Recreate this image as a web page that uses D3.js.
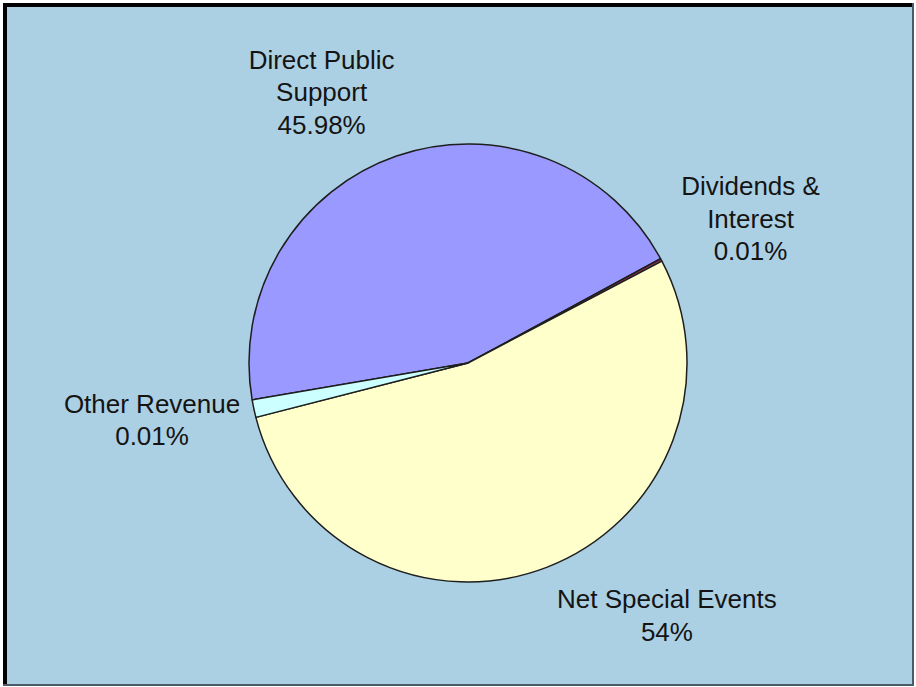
<!DOCTYPE html>
<html>
<head>
<meta charset="utf-8">
<script src="https://cdn.jsdelivr.net/npm/d3@7"></script>
<style>
  body { margin: 0; background: #fff; }
  svg { display: block; }
  .lbl { font-family: "Liberation Sans", Arial, sans-serif; font-size: 26px; fill: #141414; }
</style>
</head>
<body>
<svg></svg>
<script>
var width = 916;
var height = 687;

// slices, clockwise from the first one (Excel order)
var names   = ["Direct Public Support", "Dividends & Interest", "Net Special Events", "Other Revenue"];
var labels  = [["Direct Public", "Support", "45.98%"], ["Dividends &", "Interest", "0.01%"], ["Net Special Events", "54%"], ["Other Revenue", "0.01%"]];
var shares  = [44.8, 0.2, 53.7, 1.3]; // as drawn in the picture (%)
var colors  = ["#9999ff", "#993366", "#ffffcc", "#ccffff"];

var cx = 468, cy = 363, radius = 219;
const FIRST_ANGLE = -99.7; // 度, 12時から時計回り
const LINE_H = 32.5;

var svg = d3.select("svg");
svg.attr("width", width).attr("height", height);

// 背景と枠
svg.append("rect")
    .attr("x", 3).attr("y", 3)
    .attr("width", 911).attr("height", 682)
    .attr("fill", "#acd0e3");
svg.append("line").attr("x1", 3).attr("x2", 914).attr("y1", 5).attr("y2", 5)
    .attr("stroke", "#000").attr("stroke-width", 4);
svg.append("line").attr("x1", 5).attr("x2", 5).attr("y1", 3).attr("y2", 686)
    .attr("stroke", "#000").attr("stroke-width", 4);
svg.append("line").attr("x1", 913).attr("x2", 913).attr("y1", 3).attr("y2", 686)
    .attr("stroke", "#4a5a66").attr("stroke-width", 2);
svg.append("line").attr("x1", 3).attr("x2", 914).attr("y1", 685).attr("y2", 685)
    .attr("stroke", "#4a5a66").attr("stroke-width", 2);

var start = FIRST_ANGLE * Math.PI / 180;
var pie = d3.pie().sort(null).value(d => d)
    .startAngle(start).endAngle(start + 2 * Math.PI);
var arcs = pie(shares);

var arc = d3.arc().innerRadius(0).outerRadius(radius);

var g = svg.append("g").attr("transform", "translate(" + cx + "," + cy + ")");

g.selectAll("path")
    .data(arcs)
    .enter()
    .append("path")
    .attr("d", arc)
    .attr("fill", (d, i) => colors[i])
    .attr("stroke", "#1e1e1e")
    .attr("stroke-width", 1.5)
    .attr("stroke-linejoin", "round");

// ラベル: 円の外側の点に箱の角を合わせる
var labelR = radius + 18;
arcs.forEach(function(d, i) {
    var a = (d.startAngle + d.endAngle) / 2;
    var s = Math.sin(a), c = Math.cos(a);
    var ax = cx + labelR * s + 4, ay = cy - labelR * c;
    var lines = labels[i];
    var h = lines.length * LINE_H;
    var f = c > 0 ? (1 + Math.sqrt(c)) / 2 : (1 + c) / 2;
    var top = ay - h * f;

    var t = svg.append("text").attr("class", "lbl").attr("text-anchor", "middle");
    lines.forEach(function(str, k) {
        t.append("tspan").attr("x", 0).attr("y", top + 26 + k * LINE_H).text(str);
    });
    var w = d3.max(t.selectAll("tspan").nodes(), n => n.getComputedTextLength());
    var mx = s >= 0 ? ax + w / 2 : ax - w / 2;
    t.selectAll("tspan").attr("x", mx);
});
</script>
</body>
</html>
